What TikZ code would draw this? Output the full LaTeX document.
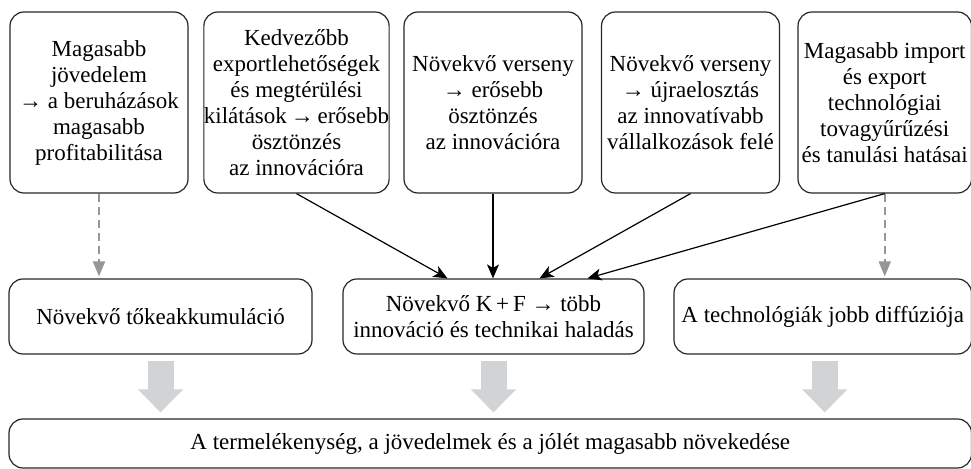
\documentclass[tikz,border=0pt]{standalone}
\usepackage{amsmath}
\usepackage{fontspec}
\setmainfont{Liberation Serif}
\usepackage{tikz}
\usetikzlibrary{arrows.meta}
\definecolor{fatgray}{RGB}{210,211,213}
\definecolor{dashgray}{RGB}{150,150,150}
\begin{document}
\begin{tikzpicture}[x=0.5pt,y=-0.5pt]
         \tikzset{box/.style={draw=black!85,line width=0.6pt,rounded corners=7pt,
                  align=center,inner sep=0pt,font=\fontsize{11.5}{13}\selectfont}}
         \tikzset{topbox/.style={box,minimum width=89pt,minimum height=90.5pt}}
         \tikzset{midbox/.style={box,minimum height=37.5pt}}
         \tikzset{solidarrow/.style={line width=0.6pt,-{Stealth[length=7pt,width=6pt,inset=1.8pt]}}}
         \tikzset{dasharrow/.style={dashgray,line width=0.9pt,dash pattern=on 4pt off 2.5pt,
                  -{Triangle[length=7.5pt,width=6pt]},shorten >=1pt}}
         \tikzset{fatarrow/.style={fatgray,line width=13pt,-{Triangle[length=11.5pt,width=22pt]},
                  shorten <=3pt,shorten >=3pt}}
         \useasboundingbox (0,0) rectangle (971,469);
         % top row
         \node[topbox] (profit) at (99,102.5) {Magasabb\\jövedelem\\→ a beruházások\\magasabb\\profitabilitása};
         \node[topbox] (export) at (296.5,102.5) {Kedvezőbb\\exportlehetőségek\\és megtérülési\\kilátások\,→\,erősebb\\ösztönzés\\az innovációra};
         \node[topbox] (compete) at (493,102.5) {Növekvő verseny\\→ erősebb\\ösztönzés\\az innovációra};
         \node[topbox] (realloc) at (690.5,102.5) {Növekvő verseny\\→ újraelosztás\\az innovatívabb\\vállalkozások felé};
         \node[topbox,minimum width=86.75pt] (spill) at (884.75,102.5) {Magasabb import\\és export\\technológiai\\tovagyűrűzési\\és tanulási hatásai};
         % middle row
         \node[midbox,minimum width=151.5pt] (capital) at (160.5,316.5) {Növekvő tőkeakkumuláció};
         \node[midbox,minimum width=150.5pt] (rnd) at (493.5,316.5) {Növekvő K\,+\,F → több\\innováció és technikai haladás};
         \node[midbox,minimum width=148.75pt] (diffusion) at (822.75,316.5) {A technológiák jobb diffúziója};
         % bottom row
         \node[box,minimum width=481.25pt,minimum height=24.5pt] (growth) at (490.25,443.5) {A termelékenység, a jövedelmek és a jólét magasabb növekedése};
         % connectors
         \coordinate (in1) at ([xshift=-23pt]rnd.north);
         \coordinate (in3) at ([xshift=23pt]rnd.north);
         \coordinate (in4) at ([xshift=47pt]rnd.north);
         \draw[dasharrow] (profit.south) -- (capital.north -| profit.south);
         \draw[dasharrow] (spill.south) -- (diffusion.north -| spill.south);
         \draw[solidarrow] (export.south) -- (in1);
         \draw[solidarrow] (compete.south) -- (compete.south |- rnd.north);
         \draw[solidarrow] (realloc.south) -- (in3);
         \draw[solidarrow] (spill.south) -- (in4);
         \draw[fatarrow] (capital.south) -- (capital.south |- growth.north);
         \draw[fatarrow] (rnd.south) -- (rnd.south |- growth.north);
         \draw[fatarrow] ([xshift=1pt]diffusion.south) -- ([xshift=1pt]diffusion.south |- growth.north);
\end{tikzpicture}
\end{document}
